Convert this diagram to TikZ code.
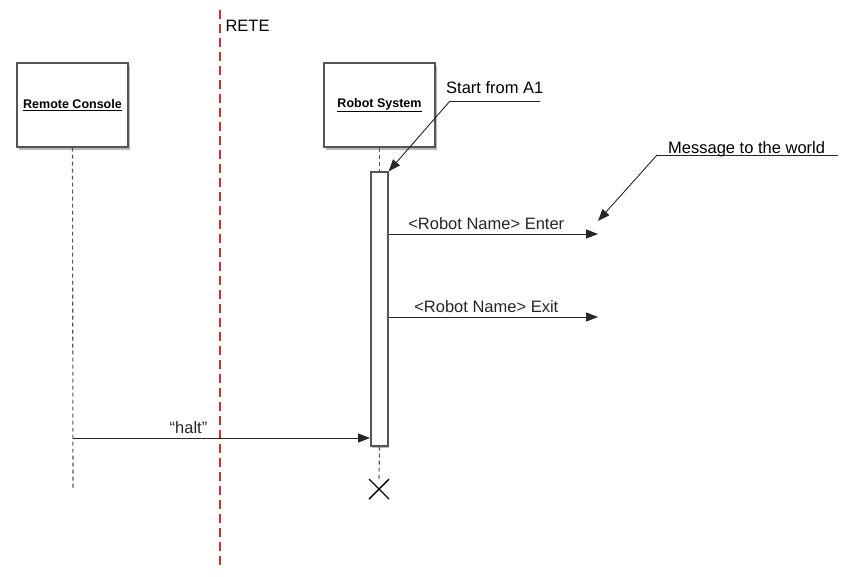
\documentclass[tikz,border=0pt]{standalone}
\usepackage{fontspec}
\setmainfont{Liberation Sans}
\usetikzlibrary{arrows.meta, shadows, positioning, calc}
\definecolor{retered}{RGB}{200, 50, 55}
\definecolor{boxgray}{RGB}{85, 85, 85}

\tikzset{
  actor/.style={draw=boxgray, line width=1.2pt, fill=white, minimum width=111pt, minimum height=84pt,
    drop shadow={shadow xshift=1.5pt, shadow yshift=-2.5pt, fill=gray!55, opacity=1},
    font=\fontsize{12.5}{14}\selectfont\bfseries},
  lifeline/.style={boxgray, dash pattern=on 4pt off 3pt, line width=1.1pt},
  msg/.style={-{Triangle[length=12pt, width=9pt]}, line width=0.9pt, black!85},
  note/.style={font=\fontsize{16.5}{18}\selectfont},
}

\begin{document}
\begin{tikzpicture}[x=1pt, y=-1pt]
  \useasboundingbox (0,0) rectangle (848,576);

  % participants
  \node[actor] (rc) at (72.5,105) {\underline{Remote Console}};
  \node[actor] (rs) at (379.5,105) {\underline{Robot System}};
  \coordinate (rcend) at (73,490);
  \draw[lifeline] (rc.south) -- (rcend);

  % network boundary
  \coordinate (retetop) at (220,10);
  \coordinate (retebot) at (220,566);
  \draw[retered, line width=2.4pt, dash pattern=on 9pt off 5pt] (retetop) -- (retebot);
  \node[note, anchor=west] (rete) at (222,26) {RETE};

  % activation of the robot system
  \node[draw=boxgray, line width=1.2pt, fill=white, minimum width=17pt, minimum height=274pt,
    drop shadow={shadow xshift=1pt, shadow yshift=-1.5pt, fill=gray!55, opacity=1}, inner sep=0pt]
    (act) at (379.5,309) {};
  \draw[lifeline] (rs.south) -- (act.north);
  \coordinate (kill) at (379,489);
  \draw[lifeline] (act.south) -- ($(kill)+(0,-9)$);
  \draw[line width=1.4pt] ($(kill)+(-10,-10)$) -- ($(kill)+(10,10)$)
                          ($(kill)+(-10,10)$) -- ($(kill)+(10,-10)$);

  % messages
  \coordinate (enter) at (598,234);
  \coordinate (exit) at (598,317);
  \draw[msg] (act.east |- enter) -- (enter) node[note, midway, above=1pt, xshift=-7pt] {<Robot Name> Enter};
  \draw[msg] (act.east |- exit) -- (exit) node[note, midway, above=1pt, xshift=-7pt] {<Robot Name> Exit};
  \coordinate (haltend) at (370,438);
  \draw[msg] (rc.south |- haltend) -- (haltend) node[note, pos=0.4, above=1pt, xshift=-3pt] {“halt”};

  % comments
  \coordinate (a1) at (450,101);
  \draw[black!85, line width=0.9pt] (a1) -- ++(90,0);
  \node[note, anchor=south west, inner sep=1pt] (start) at (445,95) {Start from A1};
  \draw[msg] (a1) -- (act.north east);
  \coordinate (mw) at (657,155);
  \draw[black!85, line width=0.9pt] (mw) -- ++(181,0);
  \node[note, anchor=south west, inner sep=1pt] (world) at (667,158) {Message to the world};
  \coordinate (mwtip) at (598,221);
  \draw[msg] (mw) -- (mwtip);
\end{tikzpicture}
\end{document}
